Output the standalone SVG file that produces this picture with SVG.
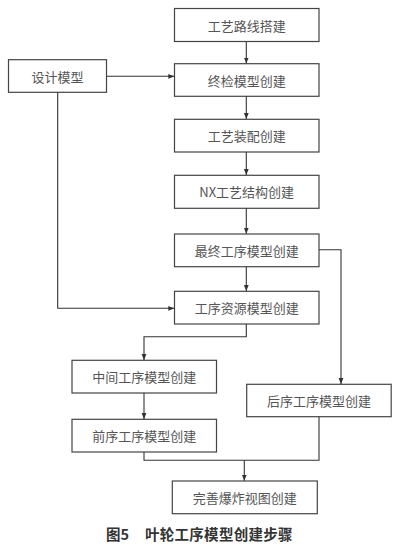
<svg xmlns="http://www.w3.org/2000/svg" width="410" height="550" viewBox="0 0 410 550">
<defs>
<marker id="ah" viewBox="0 0 6 6" refX="6" refY="3" markerWidth="6" markerHeight="6" markerUnits="userSpaceOnUse" orient="auto">
<path d="M0,0.6 L6,3 L0,5.4 Z" fill="#333"/>
</marker>
<style>
.box{fill:#fff;stroke:#444;stroke-width:1.2}
.t{font-family:"Noto Sans CJK SC","Liberation Serif",serif;font-size:13px;fill:#555;text-anchor:middle;dominant-baseline:central}
.c{fill:none;stroke:#333;stroke-width:1.1}
.cap{font-family:"Noto Sans CJK SC","Liberation Sans",sans-serif;font-size:14.5px;font-weight:bold;fill:#333;dominant-baseline:central}
</style>
</defs>
<rect width="410" height="550" fill="#fff"/>
<g id="n1"><rect class="box" x="174.5" y="8.5" width="144.5" height="33"/><text class="t" x="246.7" y="25">工艺路线搭建</text></g>
<g id="n2"><rect class="box" x="174.5" y="63.7" width="144.5" height="32.6"/><text class="t" x="246.7" y="80">终检模型创建</text></g>
<g id="n3"><rect class="box" x="174.5" y="119.3" width="144.5" height="32.7"/><text class="t" x="246.7" y="135.7">工艺装配创建</text></g>
<g id="n4"><rect class="box" x="174.5" y="175.3" width="144.5" height="33"/><text class="t" x="246.7" y="191.8">NX工艺结构创建</text></g>
<g id="n5"><rect class="box" x="174.5" y="234" width="144.5" height="32.7"/><text class="t" x="246.7" y="250.3">最终工序模型创建</text></g>
<g id="n6"><rect class="box" x="174.5" y="291.3" width="144.5" height="32.7"/><text class="t" x="246.7" y="307.7">工序资源模型创建</text></g>
<g id="n7"><rect class="box" x="8.5" y="59.7" width="98" height="32.6"/><text class="t" x="57.5" y="76">设计模型</text></g>
<g id="n8"><rect class="box" x="72" y="360.3" width="144.5" height="32.7"/><text class="t" x="144.3" y="376.7">中间工序模型创建</text></g>
<g id="n9"><rect class="box" x="72" y="419.3" width="144.5" height="32.7"/><text class="t" x="144.3" y="435.7">前序工序模型创建</text></g>
<g id="n10"><rect class="box" x="246.7" y="384.3" width="144.5" height="32.4"/><text class="t" x="319" y="400.5">后序工序模型创建</text></g>
<g id="n11"><rect class="box" x="172.3" y="481" width="145" height="32.7"/><text class="t" x="244.8" y="497.4">完善爆炸视图创建</text></g>
<g id="connectors">
<path class="c" d="M246.3,41.5 V63.5" marker-end="url(#ah)"/>
<path class="c" d="M246.3,96.3 V119.1" marker-end="url(#ah)"/>
<path class="c" d="M246.3,152 V175.1" marker-end="url(#ah)"/>
<path class="c" d="M246.3,208.3 V233.8" marker-end="url(#ah)"/>
<path class="c" d="M246.3,266.7 V291.1" marker-end="url(#ah)"/>
<path class="c" d="M106.5,76.3 H174.3" marker-end="url(#ah)"/>
<path class="c" d="M57.7,92.3 V308.3 H174.3" marker-end="url(#ah)"/>
<path class="c" d="M319,249.7 H341 V384.1" marker-end="url(#ah)"/>
<path class="c" d="M246.3,324 V336.7 H144 V360.1" marker-end="url(#ah)"/>
<path class="c" d="M144,393 V419.1" marker-end="url(#ah)"/>
<path class="c" d="M144,452 V460.3 H319 V416.7"/>
<path class="c" d="M244.3,460.3 V480.8" marker-end="url(#ah)"/>
</g>
<g id="caption">
<text class="cap" x="106" y="533.5">图5</text>
<text class="cap" x="145" y="533.5" textLength="147.5">叶轮工序模型创建步骤</text>
</g>
</svg>
